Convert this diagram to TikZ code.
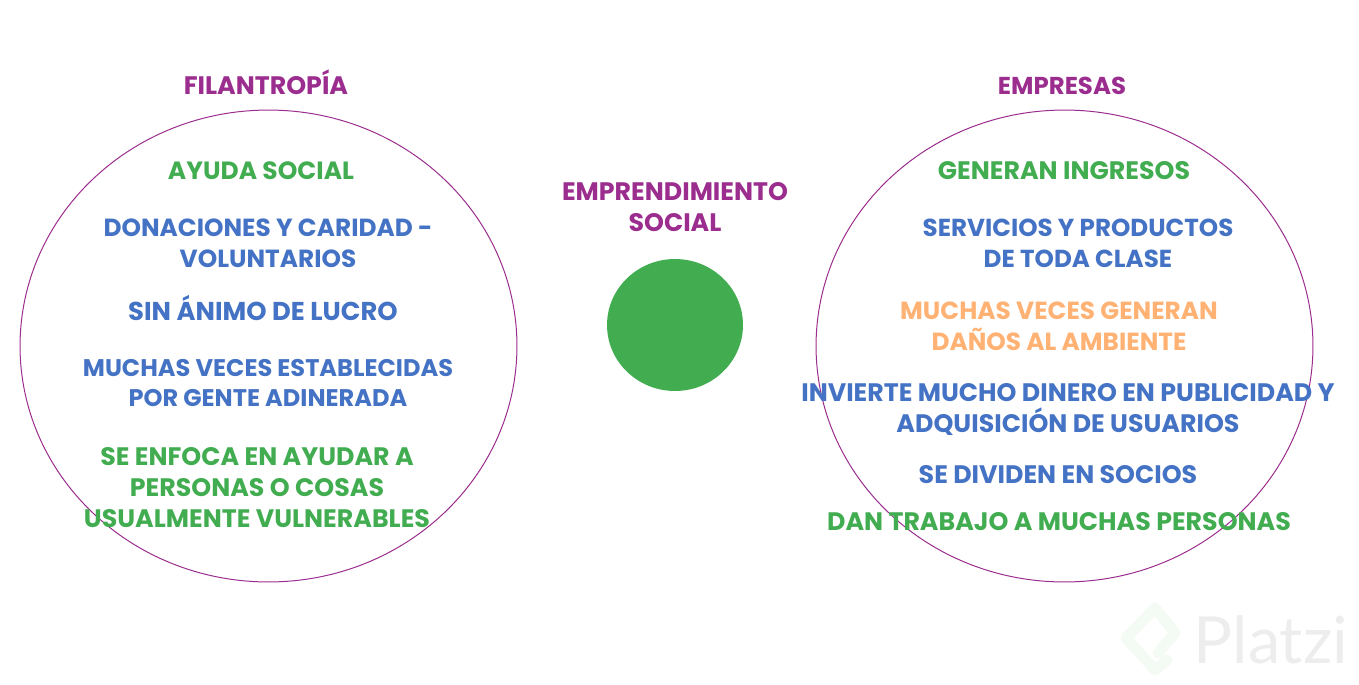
\documentclass[tikz,border=0pt]{standalone}
\usepackage{fontspec}
\setmainfont{Poppins}[UprightFont=* Bold,BoldFont=* Bold]
\newfontfamily\markfont{Lato}
\usetikzlibrary{shapes.geometric}
\definecolor{titlepurple}{HTML}{9B2D8E}
\definecolor{textgreen}{HTML}{41AD50}
\definecolor{textblue}{HTML}{4472C4}
\definecolor{textorange}{HTML}{FFB273}
\tikzset{
	bigcircle/.style={
		ellipse,
		draw=titlepurple,
		line width=.2mm,
		minimum width=9.94cm,
		minimum height=9.44cm,
		inner sep=0,
		outer sep=0,
	},
	middot/.style={
		ellipse,
		fill=textgreen,
		minimum width=2.72cm,
		minimum height=2.64cm,
		inner sep=0,
		outer sep=0,
	},
	label/.style={
		align=center,
		inner sep=0,
		font=\fontsize{14.4}{17.57}\selectfont,
	},
	size/.style={font=\fontsize{#1}{17.57}\selectfont},
	title/.style={label,text=titlepurple},
	green/.style={label,text=textgreen},
	blue/.style={label,text=textblue},
	orange/.style={label,text=textorange},
}

\begin{document}
\begin{tikzpicture}[x=0.02cm,y=-0.02cm]
	\useasboundingbox (0,0) rectangle (1359,684);

	\node[bigcircle] (filantropia) at (268.5,346) {};
	\node[bigcircle] (empresas) at (1064.5,346) {};
	\node[middot] (social) at (675,325) {};

	\node[title] (t1) at (266,82.5) {FILANTROPÍA};
	\node[title,size=13.9] (t2) at (1062,86) {EMPRESAS};
	\node[title] (t3) at (675,207) {EMPRENDIMIENTO\\SOCIAL};

	\node[green,size=14.2] (a1) at (261,171) {AYUDA SOCIAL};
	\node[blue,size=14.1] (a2) at (268,243) {DONACIONES Y CARIDAD -\\VOLUNTARIOS};
	\node[blue,size=14.7] (a3) at (263,307.5) {SIN ÁNIMO DE LUCRO};
	\node[blue,size=13.7] (a4) at (268,383) {MUCHAS VECES ESTABLECIDAS\\POR GENTE ADINERADA};
	\node[green] (a5) at (257,487.5) {SE ENFOCA EN AYUDAR A\\PERSONAS O COSAS\\USUALMENTE VULNERABLES};

	\node[green] (b1) at (1064,171) {GENERAN INGRESOS};
	\node[blue,size=14] (b2) at (1078,243) {SERVICIOS Y PRODUCTOS\\DE TODA CLASE};
	\node[orange,size=14.1] (b3) at (1059,326) {MUCHAS VECES GENERAN\\DAÑOS AL AMBIENTE};
	\node[blue] (b4) at (1068,409.5) {INVIERTE MUCHO DINERO EN PUBLICIDAD Y\\ADQUISICIÓN DE USUARIOS};
	\node[blue] (b5) at (1058,475) {SE DIVIDEN EN SOCIOS};
	\node[green] (b6) at (1059,522) {DAN TRABAJO A MUCHAS PERSONAS};

	\draw[color=textgreen!6,line width=6.2pt,line join=round,line cap=round]
		(1158,653) -- (1175,633) -- (1155,608) -- (1126,638) -- (1155,670) -- (1167,660);
	\node[text=black!7,inner sep=0,font=\markfont\fontsize{37}{37}\selectfont] (mark) at (1271,640) {Platzi};
\end{tikzpicture}
\end{document}
